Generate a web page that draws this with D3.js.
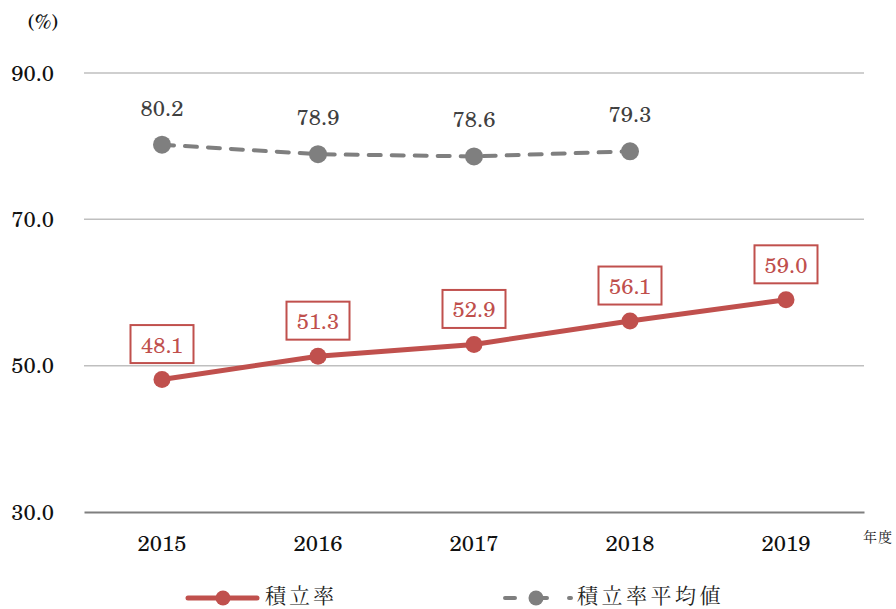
<!DOCTYPE html>
<html>
<head>
<meta charset="utf-8">
<script src="https://cdn.jsdelivr.net/npm/d3@7/dist/d3.min.js"></script>
<style>
  html, body { margin: 0; padding: 0; background: #fff; }
  svg { display: block; }
</style>
</head>
<body>
<svg id="chart" width="896" height="609"></svg>
<script>
// Fiscal years on the x axis
const years = ["2015", "2016", "2017", "2018", "2019"];
// 積立率 (funding ratio), %
const ratio = [48.1, 51.3, 52.9, 56.1, 59.0];
// 積立率平均値 (average funding ratio), %; no value for 2019
const ratioAvg = [80.2, 78.9, 78.6, 79.3, null];
// Y axis ticks
const yTicks = [30, 50, 70, 90];

const seriesNames = ["積立率", "積立率平均値"];
const RED = "#C0504D";
const GREY = "#7F7F7F";
const NUM_FONT = "'TeX Gyre Schola', 'Century Schoolbook', 'DejaVu Serif', serif";
const JP_FONT = "'Noto Serif CJK JP', serif";
const NUM_SIZE = "22px";

const svg = d3.select("#chart");

const x = d3.scaleBand().domain(years).range([84, 864]);
const y = d3.scaleLinear().domain([30, 90]).range([512, 73]);
const cx = d => x(d) + x.bandwidth() / 2;

// Horizontal grid lines
svg.append("g")
  .selectAll("line")
  .data(yTicks.filter(t => t !== 30))
  .join("line")
  .attr("x1", 84).attr("x2", 864)
  .attr("y1", d => y(d)).attr("y2", d => y(d))
  .attr("stroke", "#BFBFBF").attr("stroke-width", 1.5);

// Y axis tick labels
const yAxis = d3.axisLeft(y).tickValues(yTicks).tickFormat(d3.format(".1f")).tickSize(0).tickPadding(0);
svg.append("g")
  .attr("transform", "translate(54,0)")
  .call(yAxis)
  .call(g => g.select(".domain").remove())
  .selectAll("text")
  .style("font-family", NUM_FONT)
  .style("font-size", NUM_SIZE)
  .attr("fill", "#111");

// Bottom axis line and year labels
const xAxis = d3.axisBottom(x).tickSize(0);
svg.append("g")
  .attr("transform", `translate(0,${y(30)})`)
  .call(xAxis)
  .call(g => g.select(".domain").attr("stroke", GREY).attr("stroke-width", 2))
  .selectAll("text")
  .attr("y", 39).attr("dy", null)
  .style("font-family", NUM_FONT)
  .style("font-size", NUM_SIZE)
  .attr("fill", "#111");

// Unit labels
svg.append("text")
  .attr("x", 43).attr("y", 29)
  .attr("text-anchor", "middle")
  .style("font-family", NUM_FONT).style("font-size", "20px")
  .attr("fill", "#111")
  .text("(%)");
svg.append("text")
  .attr("x", 863).attr("y", 542)
  .style("font-family", JP_FONT).style("font-size", "14px")
  .style("letter-spacing", "1px")
  .attr("fill", "#222")
  .text("年度");

// Average ratio (dashed grey)
const avgPts = years.map((d, i) => ({ year: d, v: ratioAvg[i] })).filter(p => p.v != null);
svg.append("path")
  .datum(avgPts)
  .attr("fill", "none")
  .attr("stroke", GREY).attr("stroke-width", 4)
  .attr("stroke-dasharray", "12,11").attr("stroke-linecap", "round")
  .attr("d", d3.line().x(p => cx(p.year)).y(p => y(p.v)));
svg.append("g").selectAll("circle")
  .data(avgPts).join("circle")
  .attr("cx", p => cx(p.year)).attr("cy", p => y(p.v)).attr("r", 9)
  .attr("fill", GREY);
svg.append("g").selectAll("text")
  .data(avgPts).join("text")
  .attr("x", p => cx(p.year)).attr("y", p => y(p.v) - 29)
  .attr("text-anchor", "middle")
  .style("font-family", NUM_FONT).style("font-size", NUM_SIZE)
  .attr("fill", "#404040")
  .text(p => p.v.toFixed(1));

// Funding ratio (solid red)
const ratioPts = years.map((d, i) => ({ year: d, v: ratio[i] }));
svg.append("path")
  .datum(ratioPts)
  .attr("fill", "none")
  .attr("stroke", RED).attr("stroke-width", 5)
  .attr("d", d3.line().x(p => cx(p.year)).y(p => y(p.v)));
svg.append("g").selectAll("circle")
  .data(ratioPts).join("circle")
  .attr("cx", p => cx(p.year)).attr("cy", p => y(p.v)).attr("r", 8.5)
  .attr("fill", RED);

// Boxed value labels for the funding ratio
const lab = svg.append("g").selectAll("g")
  .data(ratioPts).join("g")
  .attr("transform", p => `translate(${cx(p.year)},${y(p.v)})`);
lab.append("rect")
  .attr("x", -31.5).attr("y", -54.5).attr("width", 63).attr("height", 38)
  .attr("fill", "#fff").attr("stroke", RED).attr("stroke-width", 2);
lab.append("text")
  .attr("text-anchor", "middle").attr("y", -27)
  .style("font-family", NUM_FONT).style("font-size", NUM_SIZE)
  .attr("fill", RED)
  .text(p => p.v.toFixed(1));

// Legend
const leg = svg.append("g").attr("transform", "translate(0,598)");
leg.append("line").attr("x1", 188).attr("x2", 257).attr("y1", 0).attr("y2", 0)
  .attr("stroke", RED).attr("stroke-width", 5).attr("stroke-linecap", "round");
leg.append("circle").attr("cx", 223).attr("cy", 0).attr("r", 7.5).attr("fill", RED);
leg.append("text").attr("x", 265).attr("y", 5)
  .style("font-family", JP_FONT).style("font-size", "21px")
  .style("letter-spacing", "3px").attr("fill", "#222")
  .text(seriesNames[0]);

leg.append("line").attr("x1", 505).attr("x2", 571).attr("y1", 0).attr("y2", 0)
  .attr("stroke", GREY).attr("stroke-width", 4).attr("stroke-linecap", "round")
  .attr("stroke-dasharray", "10,22");
leg.append("circle").attr("cx", 536).attr("cy", 0).attr("r", 7.5).attr("fill", GREY);
leg.append("text").attr("x", 577).attr("y", 5)
  .style("font-family", JP_FONT).style("font-size", "21px")
  .style("letter-spacing", "3.5px").attr("fill", "#222")
  .text(seriesNames[1]);
</script>
</body>
</html>
